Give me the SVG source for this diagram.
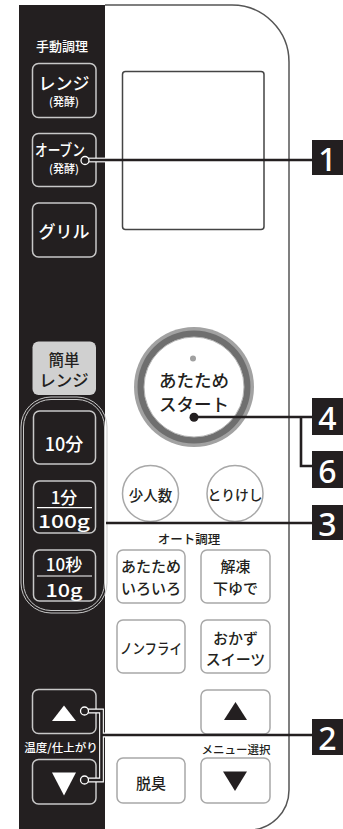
<svg xmlns="http://www.w3.org/2000/svg" width="343" height="829" viewBox="0 0 343 829">
<style>
text{font-family:"Noto Sans CJK JP","Noto Sans",sans-serif;text-anchor:middle;dominant-baseline:central;font-weight:500}
.w{fill:#ffffff}
.k{fill:#231f20}
.db{fill:#231f20;stroke:#c8c8c8;stroke-width:1.5}
.wb{fill:#ffffff;stroke:#a8a8a8;stroke-width:1.5}
.ln{fill:none;stroke:#231f20;stroke-width:2.6}
.halo{fill:none;stroke:#ffffff;stroke-width:4.8}
.lbl{fill:#231f20}
.num{font-family:"Noto Sans","DejaVu Sans",sans-serif;font-size:32px;fill:#ffffff;font-weight:500}
.dot{fill:#231f20;stroke:#ffffff;stroke-width:1.3}
</style>
<rect x="0" y="0" width="343" height="829" fill="#ffffff"/>
<g id="panel-left">
<rect x="19" y="5" width="86" height="830" fill="#231f20"/>
</g>
<g id="panel-right">
<path d="M105,5 H232 A57,57 0 0 1 289,62 V790 A40,40 0 0 1 249,830" fill="none" stroke="#555" stroke-width="1.5"/>
</g>
<g id="display"><rect x="122.5" y="71.5" width="141.5" height="158" rx="3" fill="#ffffff" stroke="#444" stroke-width="1.5"/></g>
<text x="62" y="45" class="w" font-size="13">手動調理</text>
<g id="btn-range"><rect x="32.5" y="63.5" width="63.5" height="54" rx="6" class="db"/><text x="64" y="82" class="w" font-size="17">レンジ</text><text x="64" y="101" class="w" font-size="11">(発酵)</text></g>
<g id="btn-oven"><rect x="32.5" y="133.5" width="63.5" height="53" rx="6" class="db"/><text x="60" y="149" class="w" font-size="16" textLength="50" lengthAdjust="spacingAndGlyphs">オーブン</text><text x="64" y="168" class="w" font-size="11">(発酵)</text></g>
<g id="btn-grill"><rect x="32.5" y="203" width="63.5" height="54" rx="6" class="db"/><text x="64" y="230" class="w" font-size="17">グリル</text></g>
<g id="btn-kantan"><rect x="32.5" y="341.5" width="63.5" height="53.5" rx="6" fill="#d0d0d0"/><text x="64" y="359" class="k" font-size="15.5">簡単</text><text x="64" y="380" class="k" font-size="16.5">レンジ</text></g>
<g id="capsule"><rect x="21" y="397" width="86" height="216" rx="30" fill="none" stroke="#c8c8c8" stroke-width="1"/><rect x="23.5" y="399.5" width="81" height="211" rx="27.5" fill="none" stroke="#c8c8c8" stroke-width="1"/></g>
<g id="btn-10min"><rect x="33.5" y="411" width="62" height="53" rx="6" class="db"/><text x="64" y="443" class="w" font-size="18">10分</text></g>
<g id="btn-1min"><rect x="33.5" y="481" width="62" height="52" rx="6" class="db"/><text x="64" y="496" class="w" font-size="17">1分</text><line x1="37" y1="507.7" x2="92" y2="507.7" stroke="#fff" stroke-width="1.2"/><text x="64" y="519.5" class="w" font-size="18" textLength="52" lengthAdjust="spacingAndGlyphs">100g</text></g>
<g id="btn-10sec"><rect x="33.5" y="550" width="62" height="51" rx="6" class="db"/><text x="64" y="563" class="w" font-size="17">10秒</text><line x1="37" y1="576" x2="92" y2="576" stroke="#fff" stroke-width="1.2"/><text x="64" y="588.5" class="w" font-size="18" textLength="37" lengthAdjust="spacingAndGlyphs">10g</text></g>
<g id="btn-temp-up"><rect x="32.5" y="689.5" width="63.5" height="44" rx="6" class="db"/><polygon points="52,721 76,721 64,705.5" fill="#ffffff"/></g>
<text x="61" y="747" class="w" font-size="11.5">温度/仕上がり</text>
<g id="btn-temp-down"><rect x="32.5" y="759.5" width="63.5" height="44.5" rx="6" class="db"/><polygon points="52,772.5 76,772.5 64,795.5" fill="#ffffff"/></g>
<g id="btn-start"><circle cx="194" cy="387" r="60" fill="#a2a2a2"/><circle cx="194" cy="387" r="56.5" fill="#6f6f6f"/><circle cx="194" cy="387" r="50" fill="#ffffff" stroke="#b5b5b5" stroke-width="1"/><circle cx="193" cy="358.5" r="3" fill="#a0a0a0"/><text x="194" y="379" class="k" font-size="17.5">あたため</text><text x="194" y="403" class="k" font-size="17.5">スタート</text></g>
<g id="btn-shoninzu"><circle cx="150.5" cy="493.5" r="28" class="wb"/><text x="150.5" y="494" class="k" font-size="14.5">少人数</text></g>
<g id="btn-torikeshi"><circle cx="235" cy="493.5" r="28" class="wb"/><text x="235" y="494" class="k" font-size="14" textLength="55" lengthAdjust="spacingAndGlyphs">とりけし</text></g>
<text x="189" y="538" class="k" font-size="12.5">オート調理</text>
<g id="btn-atatame"><rect x="117" y="550" width="68" height="53" rx="6" class="wb"/><text x="151" y="565" class="k" font-size="15">あたため</text><text x="151" y="587" class="k" font-size="15">いろいろ</text></g>
<g id="btn-kaito"><rect x="201" y="550" width="69" height="53" rx="6" class="wb"/><text x="235.5" y="565" class="k" font-size="15">解凍</text><text x="235.5" y="587" class="k" font-size="15">下ゆで</text></g>
<g id="btn-nonfry"><rect x="117" y="620" width="68" height="53" rx="6" class="wb"/><text x="151" y="647" class="k" font-size="14.5" textLength="62" lengthAdjust="spacingAndGlyphs">ノンフライ</text></g>
<g id="btn-okazu"><rect x="201" y="620" width="69" height="53" rx="6" class="wb"/><text x="235.5" y="637" class="k" font-size="15">おかず</text><text x="235.5" y="658" class="k" font-size="15">スイーツ</text></g>
<g id="btn-menu-up"><rect x="201" y="690" width="69" height="44" rx="6" class="wb"/><polygon points="224,720 247,720 235.5,702" fill="#231f20"/></g>
<text x="236" y="749" class="k" font-size="11.5">メニュー選択</text>
<g id="btn-dasshu"><rect x="117" y="758" width="68" height="45" rx="6" class="wb"/><text x="151" y="782" class="k" font-size="15">脱臭</text></g>
<g id="btn-menu-down"><rect x="201" y="758" width="69" height="45" rx="6" class="wb"/><polygon points="223,771.5 247,771.5 235,791" fill="#231f20"/></g>
<g id="connectors">
<path class="halo" d="M88,160 H106"/>
<path class="ln" d="M88,160 H312"/>
<circle class="dot" cx="85" cy="160.5" r="4"/>
<path class="ln" d="M194,417 H312 M301,417 V466 H312"/>
<circle cx="194" cy="417.3" r="4.5" fill="#231f20"/>
<path class="ln" d="M106,523 H312"/>
<path class="halo" d="M88,711 H101.5 V780 H88 M101.5,735 H106"/>
<path class="ln" d="M88,711 H101.5 V780 H88 M101.5,735 H312"/>
<circle class="dot" cx="84.5" cy="711" r="4"/>
<circle class="dot" cx="84.5" cy="780" r="4"/>
</g>
<g id="label-1"><rect x="312" y="140" width="31" height="35" class="lbl"/><text x="327.5" y="158" class="num">1</text></g>
<g id="label-4"><rect x="312" y="398" width="31" height="37" class="lbl"/><text x="327.5" y="417" class="num">4</text></g>
<g id="label-6"><rect x="312" y="451" width="31" height="37" class="lbl"/><text x="327.5" y="470" class="num">6</text></g>
<g id="label-3"><rect x="312" y="505" width="31" height="35" class="lbl"/><text x="327.5" y="523" class="num">3</text></g>
<g id="label-2"><rect x="312" y="719" width="31" height="36" class="lbl"/><text x="327.5" y="737" class="num">2</text></g>
</svg>
